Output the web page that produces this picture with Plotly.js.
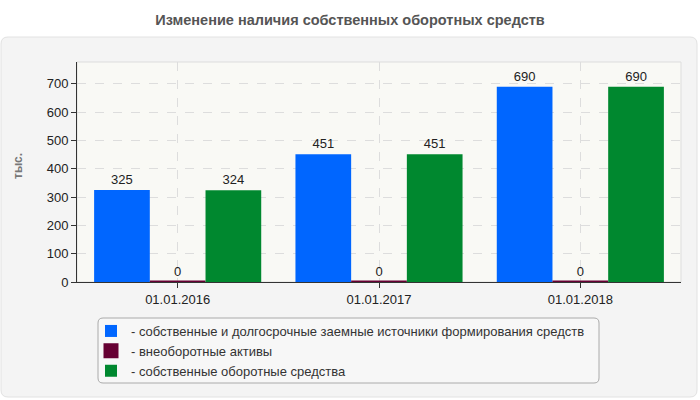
<!DOCTYPE html>
<html>
<head>
<meta charset="utf-8">
<script src="https://cdn.plot.ly/plotly-3.0.1.min.js"></script>
<style>
	html, body { margin: 0; padding: 0; background: #fff; }
	#chart { width: 700px; height: 400px; }
</style>
</head>
<body>
<div id="chart"></div>
<script>
'use strict';

// chart data
const dates = ['01.01.2016', '01.01.2017', '01.01.2018'];
const ownAndLongTerm = [325, 451, 690];
const nonCurrentAssets = [0, 0, 0];
const ownWorkingCapital = [324, 451, 690];

const seriesNames = [
	'- собственные и долгосрочные заемные источники формирования средств',
	'- внеоборотные активы',
	'- собственные оборотные средства'
];
const seriesColors = ['#0066ff', '#660033', '#00882f'];

// plot area in pixels (for decoration shapes)
const W = 700, H = 400;
const plotL = 77, plotR = 681, plotT = 62, plotB = 282;

function px(x) { return (x - plotL) / (plotR - plotL); }
function py(y) { return (plotB - y) / (plotB - plotT); }

// rounded rectangle path in paper coords from pixel box
function roundRect(x0, y0, x1, y1, r)
{
	const p = [];
	p.push('M' + px(x0 + r) + ',' + py(y0));
	p.push('L' + px(x1 - r) + ',' + py(y0));
	p.push('Q' + px(x1) + ',' + py(y0) + ' ' + px(x1) + ',' + py(y0 + r));
	p.push('L' + px(x1) + ',' + py(y1 - r));
	p.push('Q' + px(x1) + ',' + py(y1) + ' ' + px(x1 - r) + ',' + py(y1));
	p.push('L' + px(x0 + r) + ',' + py(y1));
	p.push('Q' + px(x0) + ',' + py(y1) + ' ' + px(x0) + ',' + py(y1 - r));
	p.push('L' + px(x0) + ',' + py(y0 + r));
	p.push('Q' + px(x0) + ',' + py(y0) + ' ' + px(x0 + r) + ',' + py(y0));
	return p.join(' ') + ' Z';
}

const values = [ownAndLongTerm, nonCurrentAssets, ownWorkingCapital];

const data = values.map(function(vals, i) {
	return {
		type: 'bar',
		x: dates,
		y: vals,
		name: seriesNames[i],
		text: vals.map(String),
		textposition: 'outside',
		cliponaxis: false,
		textfont: { family: 'Liberation Sans, Arial, sans-serif', size: 13, color: '#222' },
		marker: {
			color: seriesColors[i],
			line: { color: seriesColors[i], width: i === 1 ? 3 : 0 }
		},
		hoverinfo: 'none'
	};
});

const layout = {
	width: W,
	height: H,
	paper_bgcolor: '#ffffff',
	plot_bgcolor: '#f9f9f5',
	margin: { l: plotL, r: W - plotR, t: plotT, b: H - plotB },
	font: { family: 'Liberation Sans, Arial, sans-serif', size: 13, color: '#222' },
	title: {
		text: '<b>Изменение наличия собственных оборотных средств</b>',
		font: { family: 'Liberation Sans, Arial, sans-serif', size: 14.5, color: '#555' },
		xref: 'paper',
		yref: 'container',
		x: px(350),
		xanchor: 'center',
		y: 1 - 20 / H,
		yanchor: 'middle'
	},
	barmode: 'group',
	bargap: 0.17,
	bargroupgap: 0,
	showlegend: true,
	legend: {
		x: px(91),
		xanchor: 'left',
		y: py(316),
		yanchor: 'top',
		bgcolor: 'rgba(0,0,0,0)',
		borderwidth: 0,
		font: { family: 'Liberation Sans, Arial, sans-serif', size: 13, color: '#333' },
		traceorder: 'normal',
		tracegroupgap: 0
	},
	xaxis: {
		type: 'category',
		showline: true,
		linecolor: '#333',
		linewidth: 1,
		ticks: 'outside',
		ticklen: 5,
		tickcolor: '#333',
		showgrid: true,
		gridcolor: '#dddddd',
		griddash: 'dash',
		tickfont: { size: 13, color: '#222' },
		fixedrange: true
	},
	yaxis: {
		range: [0, 777],
		dtick: 100,
		showline: true,
		linecolor: '#333',
		linewidth: 1,
		ticks: 'outside',
		ticklen: 5,
		tickcolor: '#333',
		showgrid: true,
		gridcolor: '#dddddd',
		griddash: 'dash',
		zeroline: false,
		tickfont: { size: 13, color: '#222' },
		fixedrange: true
	},
	annotations: [{
		text: '<b>тыс.</b>',
		xref: 'paper', yref: 'paper',
		x: px(18), y: py(166),
		xanchor: 'center', yanchor: 'middle',
		textangle: -90,
		showarrow: false,
		font: { size: 12, color: '#777' }
	}],
	shapes: [
		{
			type: 'path', xref: 'paper', yref: 'paper', layer: 'below',
			path: roundRect(1, 37, 697, 397, 7),
			fillcolor: '#f4f4f4', line: { color: '#e2e2e2', width: 1 }
		},
		{
			type: 'rect', xref: 'paper', yref: 'paper', layer: 'below',
			x0: 0, x1: 1, y0: 0, y1: 1,
			fillcolor: '#f9f9f5', line: { color: '#dddddd', width: 1 }
		},
		{
			type: 'path', xref: 'paper', yref: 'paper', layer: 'below',
			path: roundRect(98, 318, 599, 383, 5),
			fillcolor: '#f7f7f7', line: { color: '#aaaaaa', width: 1 }
		}
	]
};

Plotly.newPlot('chart', data, layout, { displayModeBar: false, staticPlot: true });
</script>
</body>
</html>
